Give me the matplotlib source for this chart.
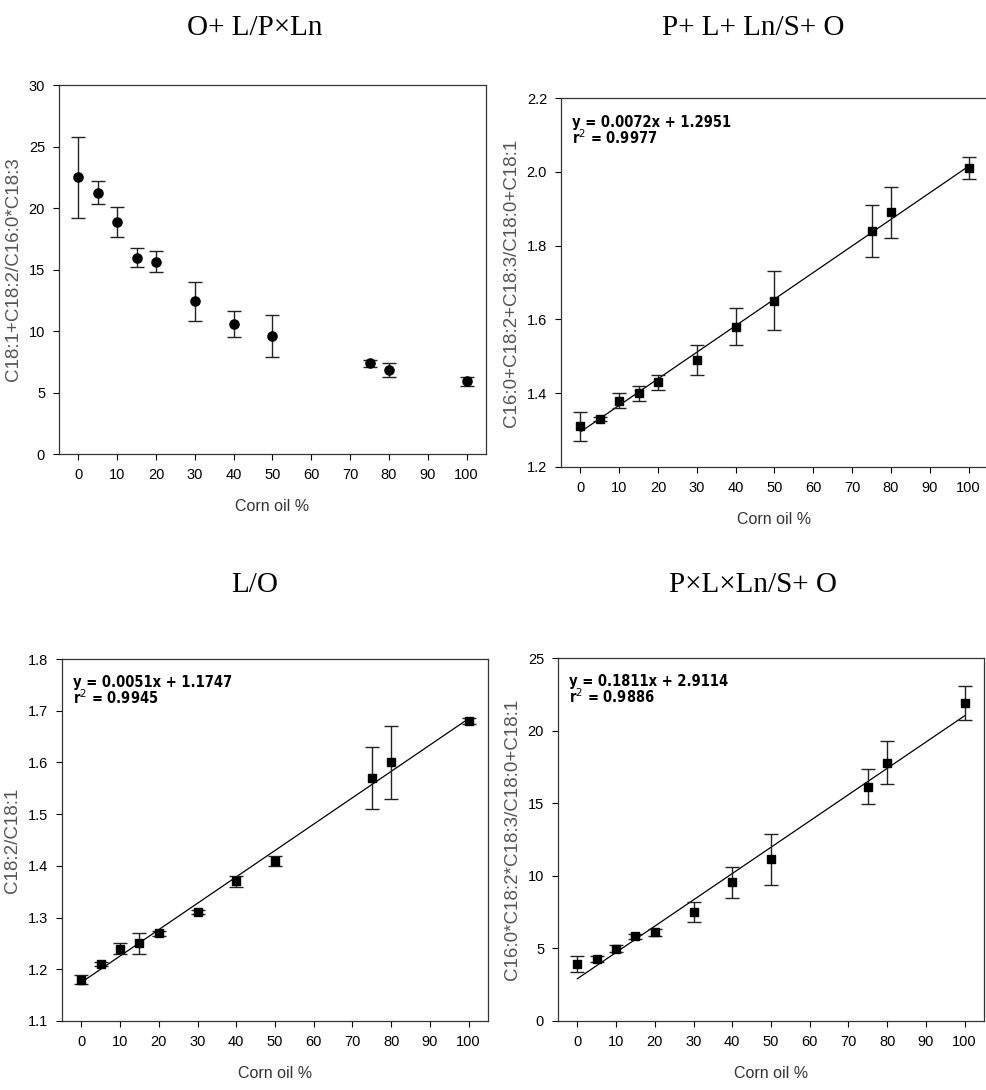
'''
four ratio plots of corn oil blends with error bars and trend lines
'''

import matplotlib
matplotlib.use('Agg')
import matplotlib.pyplot as plt

CORN = [0, 5, 10, 15, 20, 30, 40, 50, 75, 80, 100]

# panel 1: O+L/PxLn
P1_Y = [22.5, 21.25, 18.85, 15.95, 15.65, 12.4, 10.55, 9.6, 7.36, 6.85, 5.9]
P1_E = [3.3, 0.95, 1.2, 0.76, 0.88, 1.6, 1.05, 1.7, 0.32, 0.57, 0.36]

# panel 2: P+L+Ln/S+O
P2_Y = [1.31, 1.33, 1.38, 1.40, 1.43, 1.49, 1.58, 1.65, 1.84, 1.89, 2.01]
P2_E = [0.04, 0.005, 0.02, 0.02, 0.02, 0.04, 0.05, 0.08, 0.07, 0.07, 0.03]
P2_FIT = (0.0072, 1.2951)

# panel 3: L/O
P3_Y = [1.18, 1.21, 1.24, 1.25, 1.27, 1.31, 1.37, 1.41, 1.57, 1.60, 1.68]
P3_E = [0.008, 0.004, 0.01, 0.02, 0.005, 0.004, 0.01, 0.01, 0.06, 0.07, 0.005]
P3_FIT = (0.0051, 1.1747)

# panel 4: PxLxLn/S+O
P4_Y = [3.9, 4.25, 4.98, 5.82, 6.1, 7.5, 9.55, 11.15, 16.15, 17.8, 21.9]
P4_E = [0.55, 0.2, 0.22, 0.2, 0.25, 0.7, 1.05, 1.75, 1.2, 1.5, 1.2]
P4_FIT = (0.1811, 2.9114)

TITLES = ['O+ L/P\u00d7Ln', 'P+ L+ Ln/S+ O', 'L/O', 'P\u00d7L\u00d7Ln/S+ O']
YLABELS = ['C18:1+C18:2/C16:0*C18:3', 'C16:0+C18:2+C18:3/C18:0+C18:1',
           'C18:2/C18:1', 'C16:0*C18:2*C18:3/C18:0+C18:1']
EQUATIONS = ['y = 0.0072x + 1.2951\nr$^2$ = 0.9977',
             'y = 0.0051x + 1.1747\nr$^2$ = 0.9945',
             'y = 0.1811x + 2.9114\nr$^2$ = 0.9886']

plt.rcParams['font.family'] = ['Liberation Sans', 'DejaVu Sans']

W, H = 987, 1090
fig = plt.figure(figsize=(W / 100, H / 100), dpi=100)


def add_ax(left, top, right, bottom):
    # pixel box -> figure fraction
    return fig.add_axes([left / W, 1 - bottom / H, (right - left) / W, (bottom - top) / H])


def style(ax, ylim, yticks, ylabel, title, title_x, title_y):
    ax.set_xlim(-5, 105)
    ax.set_xticks(range(0, 101, 10))
    ax.set_ylim(*ylim)
    ax.set_yticks(yticks)
    ax.tick_params(direction='out', length=4, width=0.8, labelsize=10.5, pad=6)
    for s in ax.spines.values():
        s.set_linewidth(0.9)
        s.set_color('#333333')
    ax.set_xlabel('Corn oil %', fontsize=11.5, color='#333333', labelpad=12)
    ax.set_ylabel(ylabel, fontsize=13.5, color='#555555', labelpad=5)
    fig.text(title_x / W, 1 - title_y / H, title, ha='center', va='center',
             fontsize=21, family=['Liberation Serif', 'DejaVu Serif'])


def err(ax, y, e, marker, ms):
    ax.errorbar(CORN, y, yerr=e, fmt=marker, color='black', ms=ms, ecolor='#222222',
                elinewidth=1.0, capsize=5, capthick=1.0, zorder=3)


def fit(ax, coef, eq):
    xs = [CORN[0], CORN[-1]]
    ax.plot(xs, [coef[0] * x + coef[1] for x in xs], color='black', lw=0.9, zorder=2)
    ax.text(0.025, 0.955, eq, transform=ax.transAxes, ha='left', va='top',
            fontsize=10.5, fontweight='bold', fontstretch='condensed', linespacing=0.9,
            family=['DejaVu Sans'])


ax1 = add_ax(59, 85, 486, 454)
err(ax1, P1_Y, P1_E, 'o', 6.6)
style(ax1, (0, 30), range(0, 31, 5), YLABELS[0], TITLES[0], 255, 28)

ax2 = add_ax(561, 98, 988, 467)
err(ax2, P2_Y, P2_E, 's', 6.2)
fit(ax2, P2_FIT, EQUATIONS[0])
style(ax2, (1.2, 2.2), [1.2, 1.4, 1.6, 1.8, 2.0, 2.2], YLABELS[1], TITLES[1], 753, 28)
ax2.spines['right'].set_visible(False)

ax3 = add_ax(62, 659, 488, 1021)
err(ax3, P3_Y, P3_E, 's', 6.2)
fit(ax3, P3_FIT, EQUATIONS[1])
style(ax3, (1.1, 1.8), [1.1, 1.2, 1.3, 1.4, 1.5, 1.6, 1.7, 1.8], YLABELS[2], TITLES[2], 255, 585)

ax4 = add_ax(558, 658, 984, 1021)
err(ax4, P4_Y, P4_E, 's', 6.2)
fit(ax4, P4_FIT, EQUATIONS[2])
style(ax4, (0, 25), range(0, 26, 5), YLABELS[3], TITLES[3], 753, 585)

fig.savefig('out.png', dpi=100)
